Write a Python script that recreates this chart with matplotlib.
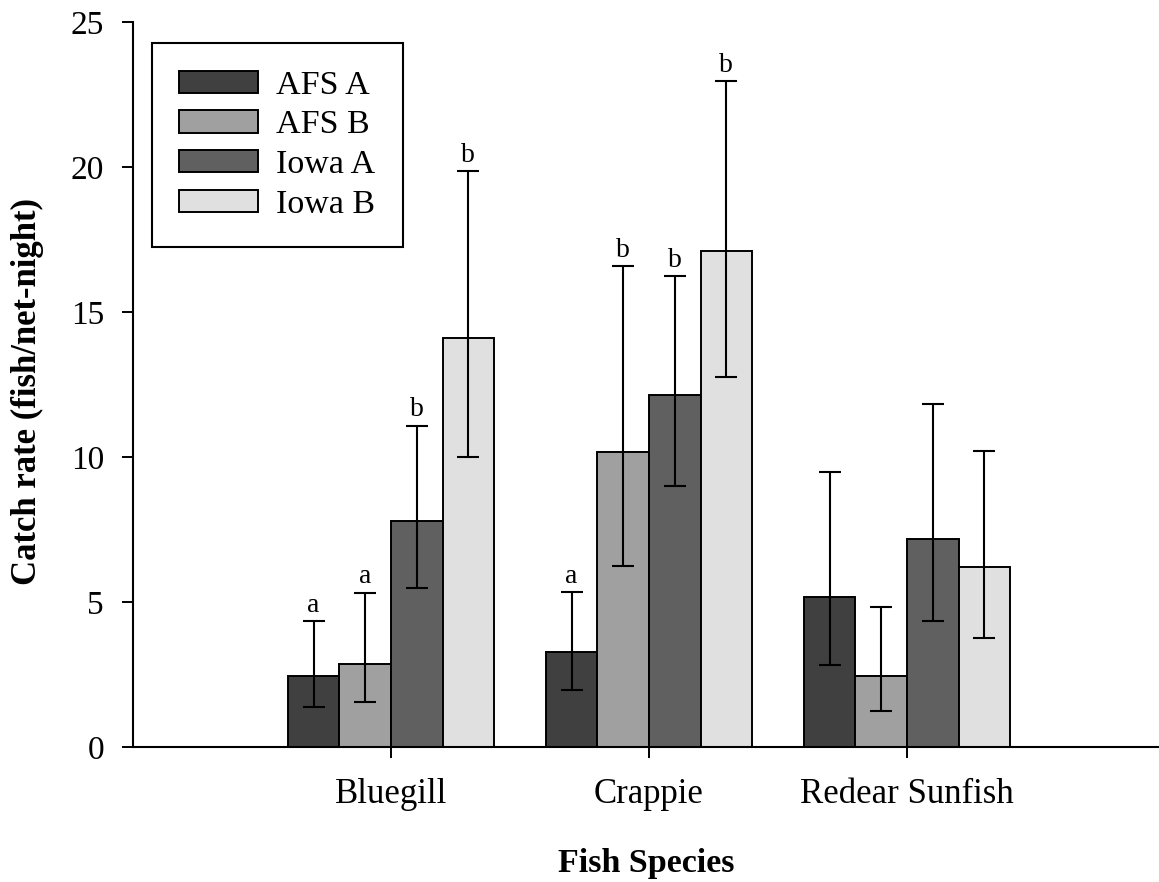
import numpy as np
import matplotlib
matplotlib.use("Agg")
import matplotlib.pyplot as plt

species = ["Bluegill", "Crappie", "Redear Sunfish"]
series = ["AFS A", "AFS B", "Iowa A", "Iowa B"]
colors = ["#404040", "#a0a0a0", "#606060", "#e0e0e0"]

# mean catch rate per series, one value per species
means = {
    "AFS A": [2.45, 3.26, 5.18],
    "AFS B": [2.86, 10.18, 2.45],
    "Iowa A": [7.78, 12.13, 7.16],
    "Iowa B": [14.1, 17.11, 6.21],
}
# confidence limits (lower, upper)
lower = {
    "AFS A": [1.39, 1.96, 2.82],
    "AFS B": [1.55, 6.25, 1.23],
    "Iowa A": [5.47, 9.01, 4.34],
    "Iowa B": [10.0, 12.76, 3.77],
}
upper = {
    "AFS A": [4.34, 5.33, 9.48],
    "AFS B": [5.32, 16.58, 4.84],
    "Iowa A": [11.07, 16.23, 11.83],
    "Iowa B": [19.86, 22.95, 10.22],
}
letters = {
    "AFS A": ["a", "a", ""],
    "AFS B": ["a", "b", ""],
    "Iowa A": ["b", "b", ""],
    "Iowa B": ["b", "b", ""],
}

plt.rcParams["font.family"] = ["Liberation Serif", "DejaVu Serif"]

fig = plt.figure(figsize=(11.59, 8.82), dpi=100)
ax = fig.add_axes([0.1148, 0.1531, 0.8852, 0.8219])

x = np.arange(1, len(species) + 1)
width = 0.2
for i, s in enumerate(series):
    pos = x + (i - 1.5) * width
    m = np.array(means[s])
    lo = m - np.array(lower[s])
    hi = np.array(upper[s]) - m
    ax.bar(pos, m, width, color=colors[i], edgecolor="black", linewidth=1.4, label=s, zorder=2)
    ax.errorbar(pos, m, yerr=[lo, hi], fmt="none", ecolor="black", elinewidth=1.5,
                capsize=8, capthick=1.5, zorder=3)
    for p, u, t in zip(pos, upper[s], letters[s]):
        if t:
            ax.text(p, u + 0.12, t, ha="center", va="bottom", fontsize=20)

ax.set_xlim(0, 3.977)
ax.set_ylim(0, 25)
ax.set_yticks([0, 5, 10, 15, 20, 25])
ax.set_xticks(x)
ax.set_xticklabels(species)
ax.tick_params(axis="y", direction="out", length=8, width=1.4, labelsize=24, pad=13)
ax.tick_params(axis="x", direction="out", length=8, width=1.4, labelsize=25, pad=14)
ax.spines["top"].set_visible(False)
ax.spines["right"].set_visible(False)
ax.spines["left"].set_linewidth(1.5)
ax.spines["bottom"].set_linewidth(1.5)

ax.set_ylabel("Catch rate (fish/net-night)", fontsize=25, fontweight="bold")
ax.yaxis.set_label_coords(-0.087, 0.49)
ax.set_xlabel("Fish Species", fontsize=24.5, fontweight="bold", labelpad=27)

leg = ax.legend(loc="upper left", bbox_to_anchor=(0.0185, 0.971), fontsize=24.5, fancybox=False,
                edgecolor="black", framealpha=1, handlelength=2.3, handleheight=0.62,
                borderpad=0.8, labelspacing=0.27, handletextpad=0.55, borderaxespad=0)
leg.get_frame().set_linewidth(1.5)

fig.savefig("out.png", dpi=100)
